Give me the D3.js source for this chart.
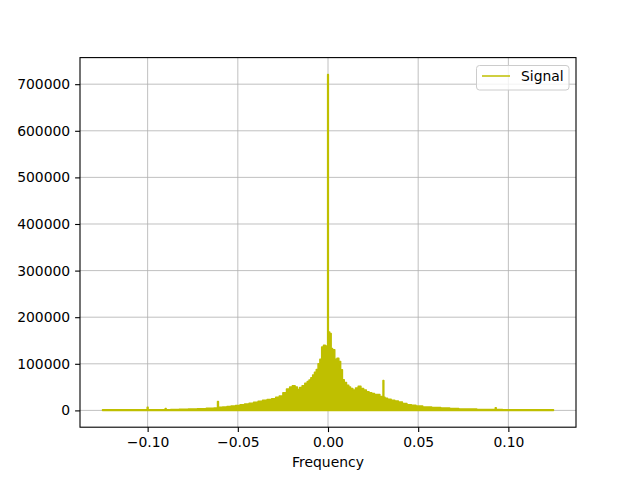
<!DOCTYPE html>
<html>
<head>
<meta charset="utf-8">
<script src="https://cdn.jsdelivr.net/npm/d3@7"></script>
<style>
  body { margin: 0; background: #fff; }
  svg { font-family: "DejaVu Sans", sans-serif; }
</style>
</head>
<body>
<svg id="svg" width="640" height="480"></svg>
<script>
// spectrum envelope (frequency, magnitude)
let freq = [
  -0.125, -0.12, -0.115, -0.11, -0.105, -0.1005, -0.1, -0.0995, -0.095, -0.0905,
  -0.09, -0.0895, -0.085, -0.08, -0.075, -0.07, -0.065, -0.0615, -0.061, -0.0605,
  -0.06, -0.057, -0.055, -0.0525, -0.05, -0.0475, -0.045, -0.0425, -0.04, -0.0375,
  -0.035, -0.0325, -0.03, -0.028, -0.026, -0.024, -0.022, -0.0205, -0.019, -0.0175,
  -0.0165, -0.015, -0.0137, -0.012, -0.011, -0.01, -0.009, -0.008, -0.007, -0.006,
  -0.005, -0.004, -0.003, -0.002, -0.001, -0.0004, 0, 0.0004, 0.0015, 0.002,
  0.003, 0.0045, 0.0055, 0.0065, 0.0075, 0.0085, 0.0095, 0.011, 0.012, 0.013,
  0.0145, 0.016, 0.0175, 0.019, 0.0205, 0.022, 0.0235, 0.025, 0.0265, 0.028,
  0.0295, 0.0303, 0.0307, 0.0312, 0.032, 0.034, 0.036, 0.038, 0.04, 0.0425,
  0.045, 0.0475, 0.05, 0.055, 0.06, 0.065, 0.07, 0.075, 0.08, 0.085,
  0.09, 0.0925, 0.093, 0.0935, 0.1, 0.11, 0.12, 0.125
];
let magnitude = [
  1200, 1200, 1200, 1200, 1200, 1200, 6500, 1200, 1200, 1300,
  4000, 1300, 1800, 2500, 3000, 3500, 4800, 5000, 19000, 6500,
  6500, 7500, 8500, 9500, 10500, 12000, 14000, 15500, 17500, 19500,
  22000, 23500, 25000, 28000, 31000, 38000, 46000, 50000, 53000, 50000,
  45000, 49000, 53000, 58000, 62000, 65000, 70000, 76000, 82000, 88000,
  100000, 110000, 136000, 140000, 138000, 135000, 721000, 168000, 165000, 133000,
  130000, 110000, 112000, 105000, 87000, 66000, 60000, 54000, 50000, 47000,
  44000, 48000, 52000, 47000, 44000, 40000, 38000, 36000, 34000, 34000,
  30000, 28000, 64000, 28000, 26000, 24000, 22000, 20000, 18000, 15000,
  12000, 11000, 9500, 7500, 6000, 5000, 4000, 3200, 2800, 2000,
  1700, 1700, 5500, 1700, 1200, 1200, 1200, 1200
];
let xTicks = [-0.10, -0.05, 0.00, 0.05, 0.10];
let yTicks = [0, 100000, 200000, 300000, 400000, 500000, 600000, 700000];
let seriesName = "Signal";
let xLabel = "Frequency";

let svg = d3.select("#svg");
let color = "#bfbf00";
let plotLeft = 80, plotRight = 576, plotTop = 57.6, plotBottom = 427.2;

let sites = freq.map((f, i) => ({ f: f, v: magnitude[i] }));

// matplotlib style 5% margins
let xExt = d3.extent(freq);
let xPad = (xExt[1] - xExt[0]) * 0.05;
let x = d3.scaleLinear()
  .domain([xExt[0] - xPad, xExt[1] + xPad])
  .range([plotLeft, plotRight]);
let yMax = d3.max(magnitude);
let yPad = yMax * 0.05;
let y = d3.scaleLinear()
  .domain([-yPad, yMax + yPad])
  .range([plotBottom, plotTop]);

// grid
svg.append("g")
  .selectAll("line")
  .data(xTicks)
  .enter()
  .append("line")
  .attr("x1", (d) => x(d)).attr("x2", (d) => x(d))
  .attr("y1", plotTop).attr("y2", plotBottom)
  .style("stroke", "#b0b0b0")
  .style("stroke-width", 0.8);
svg.append("g")
  .selectAll("line")
  .data(yTicks)
  .enter()
  .append("line")
  .attr("x1", plotLeft).attr("x2", plotRight)
  .attr("y1", (d) => y(d)).attr("y2", (d) => y(d))
  .style("stroke", "#b0b0b0")
  .style("stroke-width", 0.8);

// spectrum: filled between zero and the envelope
let area = d3.area()
  .x((d) => x(d.f))
  .y0(y(0))
  .y1((d) => y(d.v))
  .curve(d3.curveStep);
svg.append("clipPath").attr("id", "clip")
  .append("rect")
  .attr("x", plotLeft).attr("y", plotTop)
  .attr("width", plotRight - plotLeft).attr("height", plotBottom - plotTop);
svg.append("path")
  .datum(sites)
  .attr("clip-path", "url(#clip)")
  .attr("d", area)
  .style("fill", color)
  .style("stroke", color)
  .style("stroke-width", 1.5)
  .style("stroke-linejoin", "round");

// axes
let xAxis = svg.append("g")
  .attr("transform", `translate(0,${plotBottom})`)
  .call(d3.axisBottom(x).tickValues(xTicks).tickFormat(d3.format(".2f"))
    .tickSizeOuter(0).tickSize(4.9).tickPadding(4.9));
let yAxis = svg.append("g")
  .attr("transform", `translate(${plotLeft},0)`)
  .call(d3.axisLeft(y).tickValues(yTicks).tickFormat(d3.format("d"))
    .tickSizeOuter(0).tickSize(4.9).tickPadding(4.9));
[xAxis, yAxis].forEach((g) => {
  g.select(".domain").remove();
  g.selectAll("line").style("stroke", "#000").style("stroke-width", 1.1);
  g.selectAll("text")
    .style("font-family", "DejaVu Sans")
    .style("font-size", "13.9px")
    .style("fill", "#000");
});

// frame
svg.append("rect")
  .attr("x", plotLeft).attr("y", plotTop)
  .attr("width", plotRight - plotLeft).attr("height", plotBottom - plotTop)
  .style("fill", "none")
  .style("stroke", "#000")
  .style("stroke-width", 1.1);

svg.append("text")
  .attr("x", (plotLeft + plotRight) / 2)
  .attr("y", 467)
  .attr("text-anchor", "middle")
  .style("font-size", "13.9px")
  .text(xLabel);

// legend
let legend = svg.append("g").attr("transform", "translate(476.5,65.5)");
legend.append("rect")
  .attr("width", 92.5).attr("height", 24.5)
  .attr("rx", 3)
  .style("fill", "#fff")
  .style("fill-opacity", 0.8)
  .style("stroke", "#cccccc")
  .style("stroke-width", 1);
legend.append("line")
  .attr("x1", 5.5).attr("x2", 33.5)
  .attr("y1", 10.5).attr("y2", 10.5)
  .style("stroke", color)
  .style("stroke-width", 1.5);
legend.append("text")
  .attr("x", 44.5).attr("y", 15.5)
  .style("font-size", "13.9px")
  .text(seriesName);
</script>
</body>
</html>
